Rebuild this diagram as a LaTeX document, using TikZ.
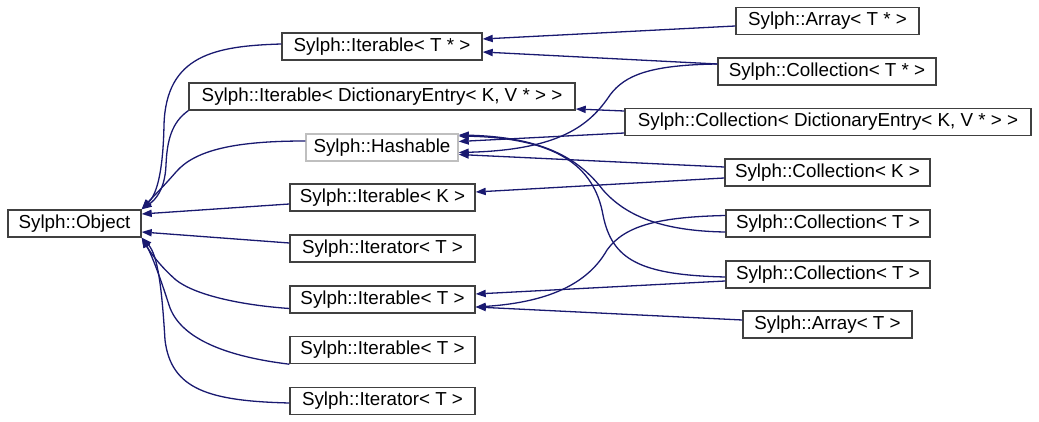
\documentclass[tikz,border=0pt]{standalone}
\usepackage{fontspec}
\setmainfont{Liberation Sans}
\usetikzlibrary{arrows.meta,calc}
\definecolor{sylblue}{HTML}{191970}
\definecolor{sylline}{HTML}{404040}
\definecolor{sylgray}{HTML}{BFBFBF}
\tikzset{
  cls/.style={draw=sylline, line width=0.7pt, fill=white, inner sep=0pt, minimum height=13.5pt, font=\fontsize{9.4pt}{11pt}\selectfont},
  ext/.style={cls, draw=sylgray},
  inh/.style={-{Triangle[length=5pt,width=3.6pt]}, line width=0.65pt, color=sylblue},
}
\begin{document}
\begin{tikzpicture}[x=0.5pt,y=-0.5pt]
  \useasboundingbox (0,0) rectangle (1039,422);
  % base and middle column
  \node[cls, minimum width=66.5pt] (obj) at (74.5,223.5) {Sylph::Object};
  \node[cls, minimum width=100pt] (itTp) at (382,46.5) {Sylph::Iterable< T * >};
  \node[cls, minimum width=193pt] (itDict) at (382,96.5) {Sylph::Iterable< DictionaryEntry< K, V * > >};
  \node[ext, minimum width=76pt] (hash) at (382,147.5) {Sylph::Hashable};
  \node[cls, minimum width=92.5pt] (itK) at (382.5,197.5) {Sylph::Iterable< K >};
  \node[cls, minimum width=92.5pt] (iterA) at (382.5,248.5) {Sylph::Iterator< T >};
  \node[cls, minimum width=92.5pt] (itA) at (382.5,299.5) {Sylph::Iterable< T >};
  \node[cls, minimum width=92.5pt] (itB) at (382.5,350) {Sylph::Iterable< T >};
  \node[cls, minimum width=92.5pt] (iterB) at (382.5,401) {Sylph::Iterator< T >};
  % right column
  \node[cls, minimum width=91.5pt] (arrTp) at (827.5,21) {Sylph::Array< T * >};
  \node[cls, minimum width=109pt] (colTp) at (827,71.5) {Sylph::Collection< T * >};
  \node[cls, minimum width=203pt] (colDict) at (828,122) {Sylph::Collection< DictionaryEntry< K, V * > >};
  \node[cls, minimum width=102.5pt] (colK) at (827.5,172.5) {Sylph::Collection< K >};
  \node[cls, minimum width=102pt] (colA) at (828,223.5) {Sylph::Collection< T >};
  \node[cls, minimum width=102pt] (colB) at (828,274.5) {Sylph::Collection< T >};
  \node[cls, minimum width=84.5pt] (arrT) at (827.5,324.5) {Sylph::Array< T >};

  % into Sylph::Object
  \draw[inh] ($(itTp.west)+(0,-2.5)$) .. controls (215,46) and (166,55) .. (164,125)
    .. controls (163,175) and (156,195) .. (obj.north east);
  \draw[inh] (itDict.south west) .. controls (172,122) and (167,140) .. (166,165)
    .. controls (165,190) and (155,200) .. (obj.north east);
  \draw[inh] ($(hash.west)+(0,-6.5)$) .. controls (235,141) and (195,150) .. (176,172)
    .. controls (163,187) and (150,200) .. (obj.north east);
  \draw[inh] ($(itK.west)+(0,6.5)$) -- ($(obj.east)+(0,-9.5)$);
  \draw[inh] ($(iterA.west)+(0,-5.5)$) -- ($(obj.east)+(0,8.5)$);
  \draw[inh] ($(itA.west)+(0,9)$) .. controls (240,305) and (195,295) .. (176,280)
    .. controls (160,266) and (150,252) .. (obj.south east);
  \draw[inh] (itB.south west) .. controls (230,357) and (180,340) .. (169,305)
    .. controls (161,280) and (152,255) .. (obj.south east);
  \draw[inh] ($(iterB.west)+(0,2)$) .. controls (210,401) and (171,390) .. (165,340)
    .. controls (162,290) and (158,255) .. (obj.south east);

  % into the middle column
  \draw[inh] ($(arrTp.west)+(0,5)$) -- ($(itTp.east)+(0,-7.5)$);
  \draw[inh] ($(colTp.west)+(0,-7.5)$) -- ($(itTp.east)+(0,5.5)$);
  \draw[inh] ($(colTp.west)+(0,-7.5)$) .. controls (650,65) and (625,75) .. (610,95)
    .. controls (590,125) and (560,150) .. ($(hash.east)+(0,5)$);
  \draw[inh] ($(colDict.west)+(0,-11)$) -- ($(itDict.east)+(0,12.5)$);
  \draw[inh] ($(colDict.west)+(0,11)$) -- ($(hash.east)+(0,-6)$);
  \draw[inh] ($(colK.west)+(0,-5.5)$) -- ($(hash.east)+(0,7)$);
  \draw[inh] ($(colK.west)+(0,5.5)$) -- ($(itK.east)+(0,-5.5)$);
  \draw[inh] ($(colA.west)+(0,8.5)$) .. controls (660,231) and (625,215) .. (603,190)
    .. controls (580,160) and (545,137) .. ($(hash.east)+(0,-12.5)$);
  \draw[inh] ($(colA.west)+(0,-8)$) .. controls (660,217) and (625,225) .. (607,250)
    .. controls (590,280) and (555,302) .. ($(itA.east)+(0,7.5)$);
  \draw[inh] ($(colB.west)+(0,2.5)$) .. controls (640,275) and (612,260) .. (603,215)
    .. controls (594,165) and (555,138) .. ($(hash.east)+(0,-11.5)$);
  \draw[inh] ($(colB.west)+(0,6.5)$) -- ($(itA.east)+(0,-5.5)$);
  \draw[inh] ($(arrT.west)+(0,-4.5)$) -- ($(itA.east)+(0,7.5)$);
\end{tikzpicture}
\end{document}
